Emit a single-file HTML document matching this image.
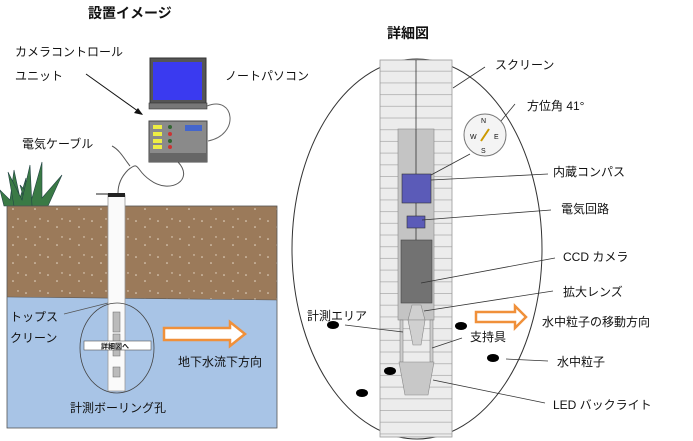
<!DOCTYPE html>
<html><head><meta charset="utf-8"><style>
html,body{margin:0;padding:0;background:#fff;}
svg{display:block;}
text{font-family:"Liberation Sans","Noto Sans CJK JP",sans-serif;font-size:12px;fill:#111;}
.b{font-weight:bold;font-size:14px;}
</style></head><body>
<svg width="693" height="441" viewBox="0 0 693 441" xmlns="http://www.w3.org/2000/svg">
<defs>
<pattern id="dots" width="22" height="18" patternUnits="userSpaceOnUse">
<rect width="22" height="18" fill="#9b7a5a"/>
<circle cx="4" cy="5" r="0.8" fill="#e8dccc"/><circle cx="13" cy="11" r="0.8" fill="#e8dccc"/><circle cx="18" cy="3" r="0.7" fill="#e8dccc"/>
</pattern>
<pattern id="scr" width="72" height="11.7" patternUnits="userSpaceOnUse" x="380" y="60">
<rect width="72" height="11.7" fill="#ececec"/><line x1="0" y1="11.2" x2="72" y2="11.2" stroke="#aaa" stroke-width="0.8"/>
</pattern>
</defs>
<text x="88" y="18" class="b">設置イメージ</text>
<text x="15" y="56">カメラコントロール</text>
<text x="15" y="80">ユニット</text>
<line x1="86" y1="74" x2="142" y2="114" stroke="#111" stroke-width="1"/>
<polygon points="143,115 134,113 138,108" fill="#111"/>
<text x="225" y="80">ノートパソコン</text>
<text x="22" y="148">電気ケーブル</text>
<rect x="150" y="58" width="56" height="47" fill="#555" stroke="#333"/>
<rect x="153" y="62" width="49" height="38" fill="#3a3af0"/>
<rect x="149" y="103" width="58" height="6" fill="#777" stroke="#333" stroke-width="0.6"/>
<path d="M207,106 C235,95 240,135 208,141" fill="none" stroke="#666"/>
<rect x="149" y="121" width="58" height="41" fill="#8a8a8a" stroke="#444"/>
<rect x="149" y="153" width="58" height="9" fill="#666"/>
<rect x="153" y="125" width="9" height="4" fill="#ee4"/><rect x="153" y="132" width="9" height="4" fill="#ee4"/><rect x="153" y="139" width="9" height="4" fill="#ee4"/><rect x="153" y="145" width="9" height="4" fill="#ee4"/>
<circle cx="170" cy="127" r="2" fill="#363"/><circle cx="170" cy="134" r="2" fill="#c33"/><circle cx="170" cy="141" r="2" fill="#363"/><circle cx="170" cy="147" r="2" fill="#c33"/>
<rect x="185" y="125" width="17" height="6" fill="#46c"/>
<path d="M178,162 C195,180 170,195 150,180 C135,170 140,160 128,170 C118,180 118,190 118,193" fill="none" stroke="#555"/>
<path d="M112,146 C120,150 125,160 130,166" fill="none" stroke="#555"/>
<path d="M4,206 L0,190 L10,200 L14,170 L20,198 L26,178 L24,206 Z" fill="#3a7a45" stroke="#244" stroke-width="0.6"/>
<path d="M26,206 L20,185 L32,198 L42,162 L42,198 L62,175 L48,206 Z" fill="#3a7a45" stroke="#244" stroke-width="0.6"/>
<path d="M14,206 L8,172 L22,200 L30,165 L32,206 Z" fill="#3a7a45" stroke="#244" stroke-width="0.6"/>
<rect x="7" y="206" width="270" height="96" fill="url(#dots)"/>
<polygon points="7,297 277,300 277,428 7,428" fill="#a8c4e6"/>
<rect x="7" y="206" width="270" height="222" fill="none" stroke="#555" stroke-width="0.8"/>
<line x1="7" y1="297" x2="277" y2="300" stroke="#555" stroke-width="0.6"/>
<rect x="108" y="195" width="17" height="196" fill="#fafafa" stroke="#999" stroke-width="0.8"/>
<rect x="108" y="193" width="17" height="4" fill="#222"/>
<line x1="96" y1="194" x2="108" y2="194" stroke="#222"/>
<ellipse cx="117" cy="348" rx="37" ry="45" fill="none" stroke="#444" stroke-width="0.8"/>
<rect x="113" y="312" width="7" height="20" fill="#bbb" stroke="#666" stroke-width="0.5"/>
<rect x="113" y="334" width="7" height="22" fill="#bbb" stroke="#666" stroke-width="0.5"/>
<rect x="113" y="367" width="7" height="10" fill="#bbb" stroke="#666" stroke-width="0.5"/>
<rect x="84" y="341" width="67" height="9" fill="#fff" stroke="#555" stroke-width="0.6"/>
<text x="101" y="348.5" style="font-size:7px;font-weight:bold">詳細図へ</text>
<line x1="64" y1="314" x2="108" y2="303" stroke="#555" stroke-width="0.8"/>
<text x="10" y="321">トップス</text>
<text x="10" y="342">クリーン</text>
<polygon points="164,328 230,328 230,322 245,334 230,346 230,340 164,340" fill="#fff" stroke="#f0903a" stroke-width="2.5"/>
<text x="178" y="366">地下水流下方向</text>
<text x="70" y="412">計測ボーリング孔</text>
<text x="387" y="38" class="b">詳細図</text>
<ellipse cx="417" cy="249" rx="125" ry="190" fill="#fff" stroke="#333" stroke-width="1"/>
<rect x="380" y="60" width="72" height="377" fill="url(#scr)" stroke="#999" stroke-width="0.8"/>
<line x1="416" y1="60" x2="416" y2="240" stroke="#333" stroke-width="0.8"/>
<rect x="398" y="129" width="36" height="191" fill="#c4c4c4" stroke="#888" stroke-width="0.6"/>
<line x1="416" y1="129" x2="416" y2="240" stroke="#333" stroke-width="0.8"/>
<rect x="402" y="174" width="29" height="29" fill="#5b5bb8" stroke="#333" stroke-width="0.6"/>
<rect x="407" y="216" width="18" height="12" fill="#5b5bb8" stroke="#333" stroke-width="0.6"/>
<rect x="401" y="240" width="31" height="63" fill="#727272" stroke="#444" stroke-width="0.6"/>
<polygon points="412,305 421,305 425,320 408,320" fill="#d0d0d0" stroke="#888" stroke-width="0.6"/>
<polygon points="408,320 425,320 421,345 413,345" fill="#d0d0d0" stroke="#888" stroke-width="0.6"/>
<rect x="400" y="320" width="3" height="42" fill="#ccc" stroke="#777" stroke-width="0.5"/>
<rect x="430" y="320" width="3" height="42" fill="#ccc" stroke="#777" stroke-width="0.5"/>
<polygon points="399,362 434,362 428,395 405,395" fill="#c8c8c8" stroke="#888" stroke-width="0.6"/>
<circle cx="485" cy="135" r="21" fill="#f4f4f4" stroke="#777"/>
<text x="481" y="123" style="font-size:7px">N</text><text x="481" y="153" style="font-size:7px">S</text>
<text x="470" y="139" style="font-size:7px">W</text><text x="494" y="139" style="font-size:7px">E</text>
<line x1="481" y1="141" x2="489" y2="129" stroke="#c90" stroke-width="2"/>
<ellipse cx="333" cy="325" rx="6" ry="4" fill="#000"/>
<ellipse cx="461" cy="326" rx="6" ry="4" fill="#000"/>
<ellipse cx="493" cy="358" rx="6" ry="4" fill="#000"/>
<ellipse cx="390" cy="371" rx="6" ry="4" fill="#000"/>
<ellipse cx="362" cy="393" rx="6" ry="4" fill="#000"/>
<g stroke="#333" stroke-width="0.8" fill="none">
<line x1="453" y1="88" x2="485" y2="67"/>
<line x1="501" y1="121" x2="515" y2="104"/>
<line x1="431" y1="175" x2="470" y2="154"/>
<line x1="431" y1="180" x2="548" y2="174"/>
<line x1="422" y1="220" x2="551" y2="210"/>
<line x1="421" y1="283" x2="555" y2="258"/>
<line x1="424" y1="311" x2="553" y2="291"/>
<line x1="345" y1="325" x2="403" y2="332"/>
<line x1="432" y1="348" x2="462" y2="338"/>
<line x1="506" y1="359" x2="548" y2="361"/>
<line x1="433" y1="380" x2="545" y2="403"/>
</g>
<text x="495" y="69">スクリーン</text>
<text x="527" y="110">方位角 41°</text>
<text x="553" y="176">内蔵コンパス</text>
<text x="561" y="213">電気回路</text>
<text x="563" y="261">CCD カメラ</text>
<text x="563" y="296">拡大レンズ</text>
<text x="542" y="326">水中粒子の移動方向</text>
<text x="470" y="341">支持具</text>
<text x="557" y="366">水中粒子</text>
<text x="553" y="409">LED バックライト</text>
<text x="307" y="320">計測エリア</text>
<polygon points="476,312 515,312 515,306 526,317 515,328 515,322 476,322" fill="#fff" stroke="#f0903a" stroke-width="2.5"/>
</svg>
</body></html>
